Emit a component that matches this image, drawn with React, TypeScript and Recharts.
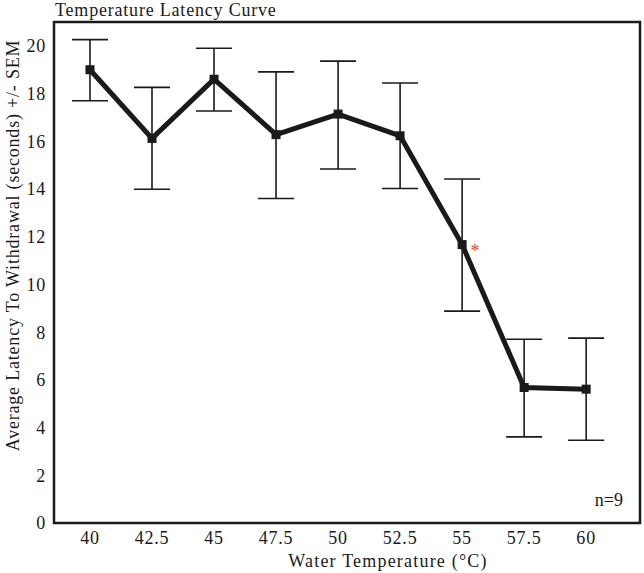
import React from "react";
import {
  ComposedChart,
  Line,
  XAxis,
  YAxis,
  ErrorBar,
  ReferenceArea,
  Label,
  LabelList,
} from "recharts";

const temps = [40, 42.5, 45, 47.5, 50, 52.5, 55, 57.5, 60];
const latency = [19.0, 16.12, 18.6, 16.28, 17.14, 16.23, 11.67, 5.68, 5.61];
const upperSem = [20.26, 18.26, 19.9, 18.91, 19.36, 18.44, 14.42, 7.7, 7.75];
const lowerSem = [17.7, 13.99, 17.27, 13.6, 14.84, 14.02, 8.88, 3.61, 3.47];
const significant = [false, false, false, false, false, false, true, false, false];
const yTicks = [0, 2, 4, 6, 8, 10, 12, 14, 16, 18, 20];

const xDomain = [38.55, 62.17];
const yDomain = [0, 21];

const data = temps.map((t, i) => ({
  temp: t,
  latency: latency[i],
  sem: [latency[i] - lowerSem[i], upperSem[i] - latency[i]],
}));

const FONT = "'Liberation Serif', 'Times New Roman', serif";
const INK = "#1a1a1a";

const tickStyle = { fontFamily: FONT, fontSize: 18, fill: INK, letterSpacing: 0.8 };

function SquareDot(props: any) {
  const { cx, cy, index } = props;
  if (cx == null || cy == null) return null;
  return (
    <rect key={`dot-${index}`} x={cx - 4.5} y={cy - 4.5} width={9} height={9} fill={INK} />
  );
}

function Asterisk(props: any) {
  const { x, y, index } = props;
  if (!significant[index]) return null;
  return (
    <text x={x + 13} y={y + 12} textAnchor="middle" fill="#e0453f" fontFamily={FONT} fontSize={18}>
      *
    </text>
  );
}

export default function App() {
  return (
    <div style={{ position: "absolute", left: 0, top: 0, width: 644, height: 573 }}>
      <div
        style={{
          position: "absolute",
          left: 55,
          top: 0,
          fontFamily: FONT,
          fontSize: 18,
          lineHeight: "20px",
          letterSpacing: 0.8,
          color: INK,
          whiteSpace: "nowrap",
        }}
      >
        Temperature Latency Curve
      </div>
      <ComposedChart
        width={644}
        height={573}
        data={data}
        margin={{ top: 22, right: 4, bottom: 0, left: 0 }}
      >
        <XAxis
          dataKey="temp"
          type="number"
          domain={xDomain}
          ticks={temps}
          tickLine={false}
          axisLine={false}
          tick={tickStyle}
          height={50}
        >
          <Label
            content={({ viewBox }: any) => {
              const cx = viewBox.x + viewBox.width / 2 + 41;
              const cy = viewBox.y + 44;
              return (
                <text
                  x={cx}
                  y={cy}
                  textAnchor="middle"
                  fontFamily={FONT}
                  fontSize={18}
                  letterSpacing={1.2}
                  fill={INK}
                >
                  Water Temperature (°C)
                </text>
              );
            }}
          />
        </XAxis>
        <YAxis
          type="number"
          domain={yDomain}
          ticks={yTicks}
          tickLine={false}
          axisLine={false}
          tick={tickStyle}
          width={54}
        >
          <Label
            content={({ viewBox }: any) => {
              const cx = viewBox.x + 13;
              const cy = viewBox.y + viewBox.height / 2 - 27;
              return (
                <text
                  x={cx}
                  y={cy}
                  transform={`rotate(-90 ${cx} ${cy})`}
                  textAnchor="middle"
                  dominantBaseline="central"
                  fontFamily={FONT}
                  fontSize={18}
                  letterSpacing={0.8}
                  fill={INK}
                >
                  Average Latency To Withdrawal (seconds) +/- SEM
                </text>
              );
            }}
          />
        </YAxis>
        <ReferenceArea
          x1={xDomain[0]}
          x2={xDomain[1]}
          y1={yDomain[0]}
          y2={yDomain[1]}
          fill="none"
          stroke={INK}
          strokeWidth={2.5}
          ifOverflow="visible"
          label={{
            value: "n=9",
            position: "insideBottomRight",
            offset: 17,
            fontFamily: FONT,
            fontSize: 18,
            fill: INK,
          }}
        />
        <Line
          type="linear"
          dataKey="latency"
          stroke={INK}
          strokeWidth={5}
          dot={SquareDot}
          activeDot={false}
          isAnimationActive={false}
        >
          <ErrorBar dataKey="sem" width={18} stroke={INK} strokeWidth={1.6} direction="y" />
          <LabelList dataKey="latency" content={Asterisk} />
        </Line>
      </ComposedChart>
    </div>
  );
}
